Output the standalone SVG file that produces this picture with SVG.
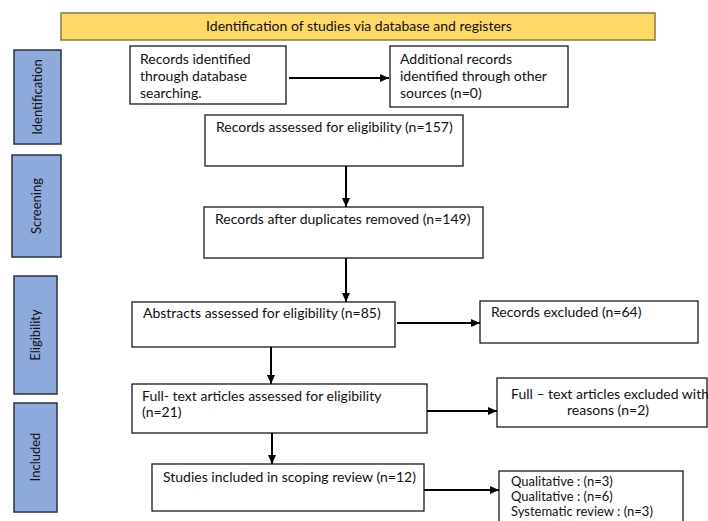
<svg xmlns="http://www.w3.org/2000/svg" width="708" height="521" viewBox="0 0 708 521">
<style>
  .box { fill: #ffffff; stroke: #1a1a1a; stroke-width: 1.3; }
  .phase { fill: #8eaadc; stroke: #2b3340; stroke-width: 1.5; }
  .title { fill: #ffd966; stroke: #8c7a3a; stroke-width: 1.5; }
  text { font-family: Lato, "Open Sans", "Liberation Sans", sans-serif; font-size: 14px; fill: #111111; }
  .ph { font-size: 13px; }
  .sm { font-size: 13px; }
  .conn line { stroke: #000000; stroke-width: 2; }
</style>
<defs>
  <marker id="arrow" markerUnits="userSpaceOnUse" markerWidth="10" markerHeight="9" refX="9" refY="4" orient="auto">
    <path d="M0,0 L9,4 L0,8 z" fill="#000000"/>
  </marker>
</defs>
<rect width="708" height="521" fill="#ffffff"/>

<g id="title">
  <rect class="title" x="61" y="13" width="594" height="27"/>
  <text x="359" y="31" text-anchor="middle">Identification of studies via database and registers</text>
</g>

<g id="phase-identification">
  <rect class="phase" x="14" y="50" width="47" height="94"/>
  <text class="ph" transform="translate(42,97) rotate(-90)" text-anchor="middle">Identification</text>
</g>
<g id="phase-screening">
  <rect class="phase" x="12" y="155" width="49" height="102"/>
  <text class="ph" transform="translate(41,206) rotate(-90)" text-anchor="middle">Screening</text>
</g>
<g id="phase-eligibility">
  <rect class="phase" x="14" y="276" width="43" height="118"/>
  <text class="ph" transform="translate(40,335) rotate(-90)" text-anchor="middle">Eligibility</text>
</g>
<g id="phase-included">
  <rect class="phase" x="14" y="403" width="43" height="109"/>
  <text class="ph" transform="translate(40,457) rotate(-90)" text-anchor="middle">Included</text>
</g>

<g id="records-identified">
  <rect class="box" x="130" y="46" width="156" height="58"/>
  <text x="140" y="64">Records identified</text>
  <text x="140" y="81">through database</text>
  <text x="140" y="98">searching.</text>
</g>
<g id="additional-records">
  <rect class="box" x="390" y="46" width="178" height="61"/>
  <text x="400" y="64">Additional records</text>
  <text x="400" y="81">identified through other</text>
  <text x="400" y="98">sources (n=0)</text>
</g>
<g id="records-assessed">
  <rect class="box" x="205" y="115" width="258" height="51"/>
  <text x="216" y="132">Records assessed for eligibility (n=157)</text>
</g>
<g id="records-after-duplicates">
  <rect class="box" x="204" y="207" width="279" height="51"/>
  <text x="215" y="224">Records after duplicates removed (n=149)</text>
</g>
<g id="abstracts-assessed">
  <rect class="box" x="132" y="302" width="263" height="45"/>
  <text x="143" y="318">Abstracts assessed for eligibility (n=85)</text>
</g>
<g id="records-excluded">
  <rect class="box" x="480" y="301" width="218" height="42"/>
  <text x="491" y="317">Records excluded (n=64)</text>
</g>
<g id="fulltext-assessed">
  <rect class="box" x="132" y="384" width="295" height="49"/>
  <text x="142" y="401">Full- text articles assessed for eligibility</text>
  <text x="142" y="417">(n=21)</text>
</g>
<g id="fulltext-excluded">
  <rect class="box" x="497" y="378" width="210" height="49"/>
  <text x="610" y="399" text-anchor="middle">Full – text articles excluded with</text>
  <text x="608" y="415" text-anchor="middle">reasons (n=2)</text>
</g>
<g id="studies-included">
  <rect class="box" x="152" y="464" width="272" height="47"/>
  <text x="163" y="482">Studies included in scoping review (n=12)</text>
</g>
<g id="study-types">
  <rect class="box" x="499" y="471" width="184" height="60"/>
  <text class="sm" x="511" y="486">Qualitative : (n=3)</text>
  <text class="sm" x="511" y="501">Qualitative : (n=6)</text>
  <text class="sm" x="511" y="516">Systematic review : (n=3)</text>
</g>

<g id="connectors" class="conn">
  <line x1="289" y1="78" x2="389" y2="78" marker-end="url(#arrow)"/>
  <line x1="346" y1="166" x2="346" y2="207" marker-end="url(#arrow)"/>
  <line x1="346" y1="258" x2="346" y2="302" marker-end="url(#arrow)"/>
  <line x1="271" y1="347" x2="271" y2="384" marker-end="url(#arrow)"/>
  <line x1="272" y1="433" x2="272" y2="464" marker-end="url(#arrow)"/>
  <line x1="397" y1="323" x2="480" y2="323" marker-end="url(#arrow)"/>
  <line x1="427" y1="411" x2="497" y2="411" marker-end="url(#arrow)"/>
  <line x1="424" y1="490" x2="499" y2="490" marker-end="url(#arrow)"/>
</g>
</svg>
